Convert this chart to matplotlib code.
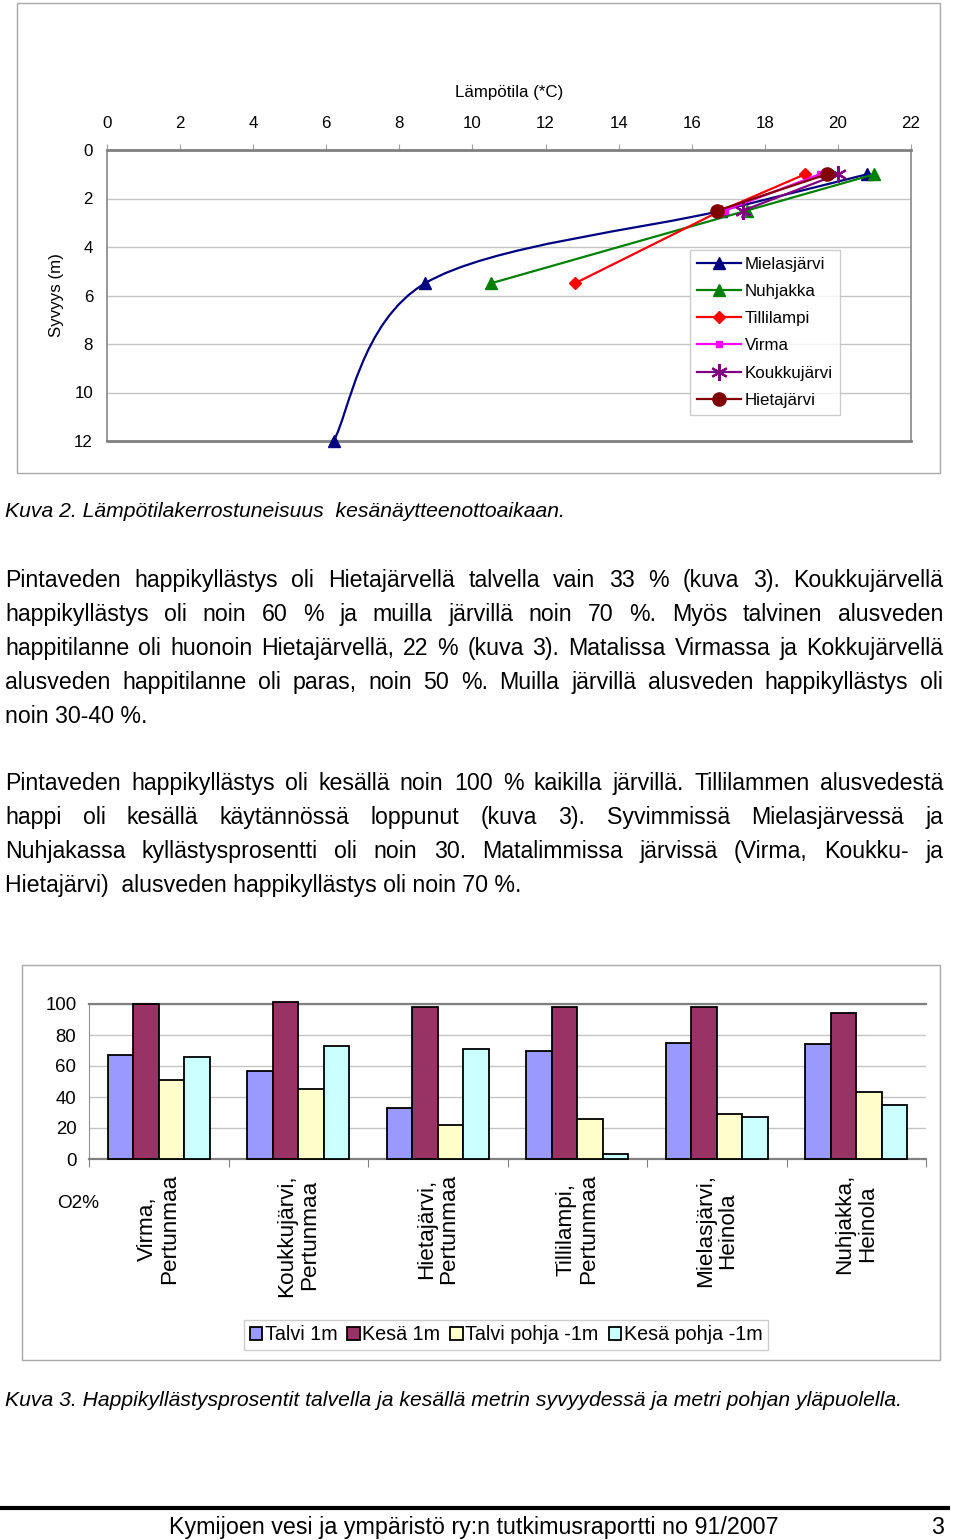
import numpy as np
import matplotlib
matplotlib.use('Agg')
import matplotlib.pyplot as plt
from matplotlib.path import Path
from matplotlib.patches import PathPatch, Rectangle, Patch
from matplotlib.lines import Line2D

plt.rcParams['font.family'] = ['Liberation Sans', 'DejaVu Sans']

W, H = 960, 1540

# temperature profiles, Kuva 2 (temp in C, depth in m)
lake_names = ['Mielasjärvi', 'Nuhjakka', 'Tillilampi', 'Virma', 'Koukkujärvi', 'Hietajärvi']
mielas_temp = [20.8, 16.8, 8.7, 6.2]
mielas_depth = [1, 2.5, 5.5, 12]
nuhjakka_temp = [21.0, 17.5, 10.5]
nuhjakka_depth = [1, 2.5, 5.5]
tilli_temp = [19.1, 16.8, 12.8]
tilli_depth = [1, 2.5, 5.5]
virma_temp = [19.5, 16.9]
virma_depth = [1, 2.5]
koukku_temp = [20.0, 17.4]
koukku_depth = [1, 2.5]
hieta_temp = [19.7, 16.7]
hieta_depth = [1, 2.5]

# oxygen saturation, Kuva 3
sites = ['Virma,\nPertunmaa', 'Koukkujärvi,\nPertunmaa', 'Hietajärvi,\nPertunmaa',
         'Tillilampi,\nPertunmaa', 'Mielasjärvi,\nHeinola', 'Nuhjakka,\nHeinola']
series_names = ['Talvi 1m', 'Kesä 1m', 'Talvi pohja -1m', 'Kesä pohja -1m']
talvi_1m = [67, 57, 33, 70, 75, 74]
kesa_1m = [100, 101, 98, 98, 98, 94]
talvi_pohja = [51, 45, 22, 26, 29, 43]
kesa_pohja = [66, 73, 71, 3, 27, 35]

para1 = [
    "Pintaveden happikyllästys oli Hietajärvellä talvella vain 33 % (kuva 3). Koukkujärvellä",
    "happikyllästys oli noin 60 % ja muilla järvillä noin 70 %. Myös talvinen alusveden",
    "happitilanne oli huonoin Hietajärvellä, 22 % (kuva 3). Matalissa Virmassa ja Kokkujärvellä",
    "alusveden happitilanne oli paras, noin 50 %. Muilla järvillä alusveden happikyllästys oli",
    "noin 30-40 %.",
]
para2 = [
    "Pintaveden happikyllästys oli kesällä noin 100 % kaikilla järvillä. Tillilammen alusvedestä",
    "happi oli kesällä käytännössä loppunut (kuva 3). Syvimmissä Mielasjärvessä ja",
    "Nuhjakassa kyllästysprosentti oli noin 30. Matalimmissa järvissä (Virma, Koukku- ja",
    "Hietajärvi)  alusveden happikyllästys oli noin 70 %.",
]
caption2 = "Kuva 2. Lämpötilakerrostuneisuus  kesänäytteenottoaikaan."
caption3 = "Kuva 3. Happikyllästysprosentit talvella ja kesällä metrin syvyydessä ja metri pohjan yläpuolella."
footer = "Kymijoen vesi ja ympäristö ry:n tutkimusraportti no 91/2007"

fig = plt.figure(figsize=(W / 100, H / 100), dpi=100)
fig.patch.set_facecolor('white')
R = fig.canvas.get_renderer()


def rect(x0, y0, x1, y1):
    return [x0 / W, 1 - y1 / H, (x1 - x0) / W, (y1 - y0) / H]


def fy(y):
    return 1 - y / H


def text_w(s, size, **kw):
    t = fig.text(0, 0, s, fontsize=size, **kw)
    w = t.get_window_extent(renderer=R).width
    t.remove()
    return w


def fit(s, target, **kw):
    return 10 * target / text_w(s, 10, **kw)


def smooth_path(xs, ys):
    P = np.column_stack([xs, ys]).astype(float)
    n = len(P)
    verts = [P[0]]
    codes = [Path.MOVETO]
    for i in range(n - 1):
        p0 = P[i - 1] if i > 0 else P[i]
        p3 = P[i + 2] if i + 2 < n else P[i + 1]
        verts += [P[i] + (P[i + 1] - p0) / 6, P[i + 1] - (p3 - P[i]) / 6, P[i + 1]]
        codes += [Path.CURVE4] * 3
    return Path(verts, codes)


# outer chart frames
fig.patches.append(Rectangle((17 / W, fy(473)), 923 / W, 470 / H, transform=fig.transFigure,
                             fill=False, edgecolor='#a8a8a8', lw=1))
fig.patches.append(Rectangle((22 / W, fy(1360)), 918 / W, 395 / H, transform=fig.transFigure,
                             fill=False, edgecolor='#a8a8a8', lw=1))

# ---------------- Kuva 2: temperature profile ----------------
ax = fig.add_axes(rect(107, 150, 911, 441))
ax.set_xlim(0, 22)
ax.set_ylim(12, 0)
ax.xaxis.tick_top()
ax.set_xticks(range(0, 23, 2))
ax.set_yticks(range(0, 13, 2))
ax.tick_params(axis='x', length=4, color='#a0a0a0', labelsize=12.2, pad=9.5)
ax.tick_params(axis='y', length=0, labelsize=12.2, pad=10)
ax.grid(axis='y', color='#c4c4c4', lw=1)
ax.set_axisbelow(True)
for s in ['top', 'bottom']:
    ax.spines[s].set_color('#808080')
    ax.spines[s].set_linewidth(2)
for s in ['left', 'right']:
    ax.spines[s].set_color('#909090')
    ax.spines[s].set_linewidth(1.3)

styles = [
    dict(color='#000080', marker='^', ms=8),
    dict(color='#008000', marker='^', ms=8),
    dict(color='#ff0000', marker='D', ms=6.5),
    dict(color='#ff00ff', marker='s', ms=4.5),
    dict(color='#800080', marker=(6, 2, 0), ms=12, mew=1.6),
    dict(color='#800000', marker='o', ms=9.5),
]
profiles = [(mielas_temp, mielas_depth), (nuhjakka_temp, nuhjakka_depth), (tilli_temp, tilli_depth),
            (virma_temp, virma_depth), (koukku_temp, koukku_depth), (hieta_temp, hieta_depth)]

handles = []
for name, (t, d), st in zip(lake_names, profiles, styles):
    if name == 'Mielasjärvi':
        ax.add_patch(PathPatch(smooth_path(t, d), fill=False, edgecolor=st['color'], lw=1.6, zorder=2))
        ax.plot(t, d, ls='none', zorder=3, clip_on=False, **st)
    else:
        ax.plot(t, d, lw=1.6, zorder=3, clip_on=False, **st)
    handles.append(Line2D([], [], lw=1.6, **st))

leg = ax.legend(handles, lake_names, loc='upper left', bbox_to_anchor=(690 / W, fy(250)),
                bbox_transform=fig.transFigure, fontsize=12.2, frameon=True, fancybox=False,
                edgecolor='#c0c0c0', handlelength=2.6, handletextpad=0.25, labelspacing=0.72,
                borderpad=0.4, borderaxespad=0)
leg.get_frame().set_linewidth(1)

fig.text(509 / W, fy(92), 'Lämpötila (*C)', ha='center', va='center', fontsize=12.2)
fig.text(57 / W, fy(295), 'Syvyys (m)', ha='center', va='center', rotation=90, fontsize=12.2)

# ---------------- text ----------------
body_size = fit(para1[-1], 143)


def paragraph(lines, base0, step=34, x0=5, x1=943):
    for i, line in enumerate(lines):
        y = fy(base0 + i * step)
        if i == len(lines) - 1:
            fig.text(x0 / W, y, line, fontsize=body_size, va='baseline')
            continue
        words = line.split(' ')
        ws = [text_w(w, body_size) for w in words]
        gap = (x1 - x0 - sum(ws)) / (len(words) - 1)
        x = x0
        for w, wd in zip(words, ws):
            fig.text(x / W, y, w, fontsize=body_size, va='baseline')
            x += wd + gap


fig.text(5 / W, fy(517), caption2, fontsize=fit(caption2, 561, style='italic'), style='italic', va='baseline')
paragraph(para1, 587)
paragraph(para2, 790)
fig.text(5 / W, fy(1406), caption3, fontsize=fit(caption3, 900, style='italic'), style='italic', va='baseline')

# ---------------- Kuva 3: oxygen bars ----------------
ax2 = fig.add_axes(rect(89, 1004, 926, 1159))
ax2.set_xlim(-0.5, 5.5)
ax2.set_ylim(0, 100)
bw = 0.182
colors = ['#9999ff', '#993366', '#ffffcc', '#ccffff']
xs = np.arange(len(sites))
for k, (vals, c) in enumerate(zip([talvi_1m, kesa_1m, talvi_pohja, kesa_pohja], colors)):
    ax2.bar(xs + (k - 1.5) * bw, vals, width=bw, color=c, edgecolor='black', lw=1.3,
            zorder=3, clip_on=False)
ax2.set_yticks(range(0, 101, 20))
ax2.set_xticks(np.arange(-0.5, 5.6, 1))
ax2.set_xticklabels([])
ax2.tick_params(axis='y', length=0, labelsize=13.4, pad=9)
ax2.tick_params(axis='x', length=6, color='#808080', direction='out')
ax2.grid(axis='y', color='#c4c4c4', lw=1)
ax2.set_axisbelow(True)
ax2.spines['right'].set_visible(False)
ax2.spines['top'].set_color('#808080')
ax2.spines['top'].set_linewidth(1.6)
ax2.spines['left'].set_color('#909090')
ax2.spines['bottom'].set_color('#808080')
ax2.spines['bottom'].set_linewidth(1.6)
for x, s in zip(xs, sites):
    ax2.text(x, -(1174 - 1159) / 155, s, transform=ax2.get_xaxis_transform(), rotation=90,
             ha='center', va='top', multialignment='center', fontsize=16.2, linespacing=1.1)
fig.text(78 / W, fy(1203), 'O2%', ha='center', va='center', fontsize=13.6)

bar_handles = [Patch(facecolor=c, edgecolor='black', lw=1.3) for c in colors]
leg2 = ax2.legend(bar_handles, series_names, loc='center', bbox_to_anchor=(506 / W, fy(1335)),
                  bbox_transform=fig.transFigure, ncol=4, fontsize=14.2, frameon=True, fancybox=False,
                  edgecolor='#c0c0c0', handlelength=0.65, handleheight=0.65, handletextpad=0.12,
                  columnspacing=0.5, borderpad=0.3, borderaxespad=0)
leg2.get_frame().set_linewidth(1)

# ---------------- footer ----------------
fig.add_artist(Line2D([0, 948 / W], [fy(1508), fy(1508)], color='black', lw=3, transform=fig.transFigure))
fig.text(474 / W, fy(1534), footer, ha='center', va='baseline', fontsize=fit(footer, 612))
fig.text(944 / W, fy(1534), '3', ha='right', va='baseline', fontsize=fit(footer, 612))

fig.savefig('out.png', dpi=100, facecolor='white')
